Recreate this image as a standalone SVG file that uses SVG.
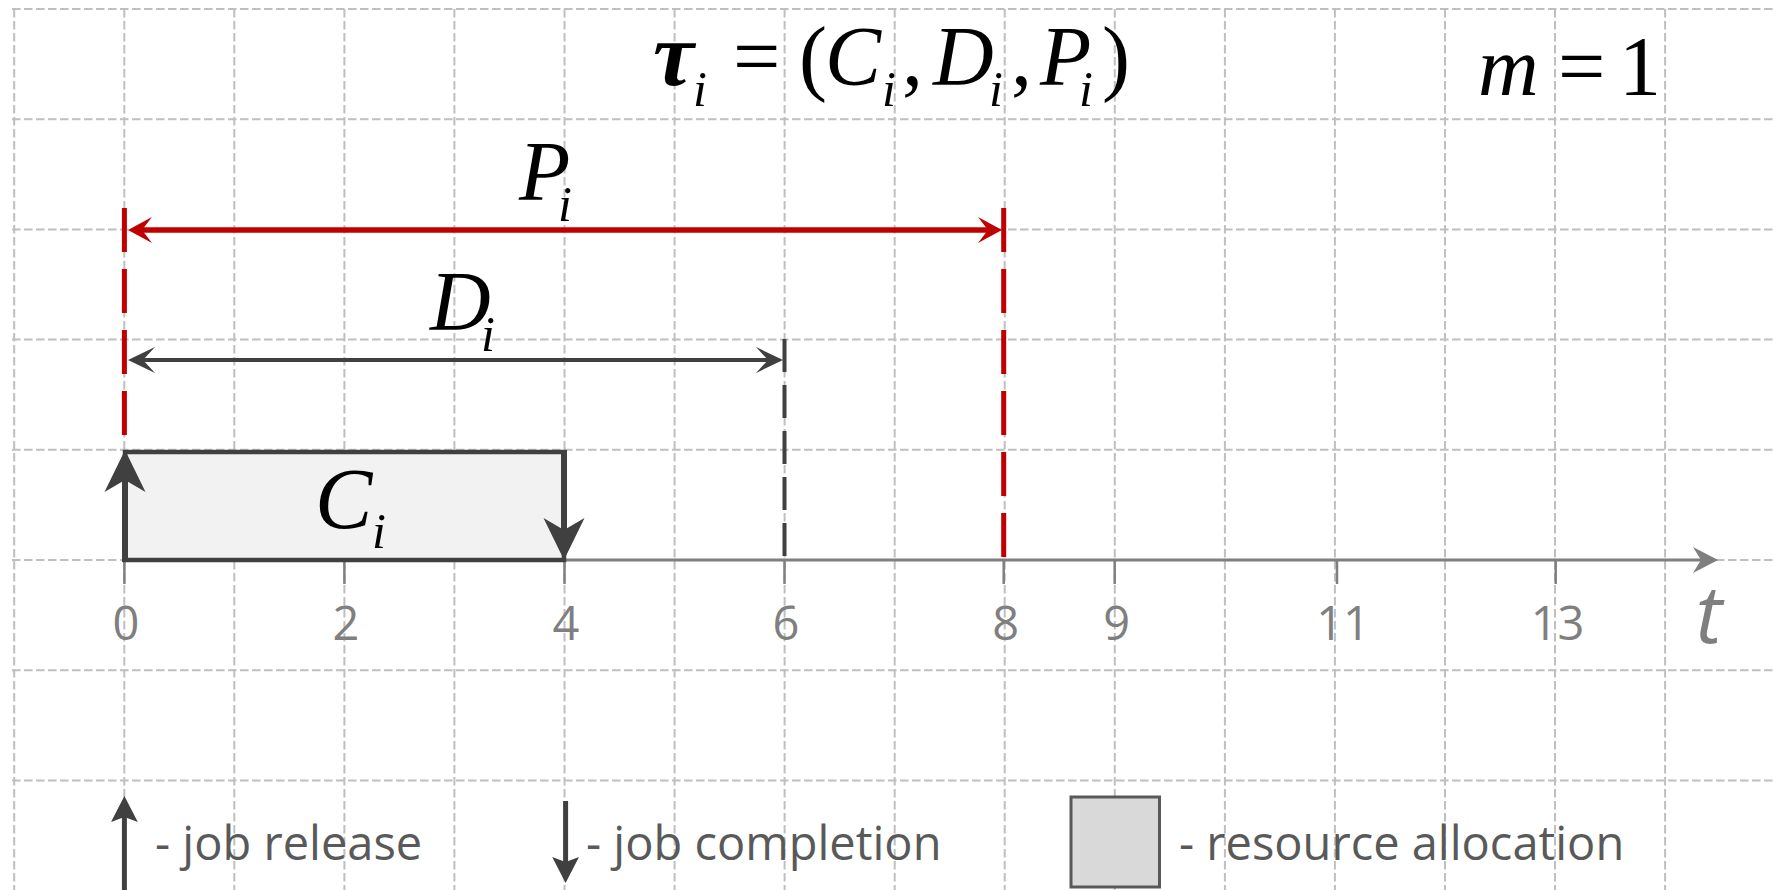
<svg xmlns="http://www.w3.org/2000/svg" width="1773" height="890" viewBox="0 0 1773 890">
<style>
.grid line{stroke:#bfbfbf;stroke-width:2;stroke-dasharray:8.5 3.5;fill:none}
.math{font-family:"Liberation Serif","Times New Roman",serif;fill:#000}
.it{font-style:italic}
.main{font-size:84px}
.sub{font-size:50px;font-style:italic}
.tick{stroke:#7f7f7f;stroke-width:2.5}
.tlabel{font-family:"Open Sans","Noto Sans",sans-serif;font-size:47px;fill:#7f7f7f;text-anchor:middle}
.leg{font-family:"Open Sans","Noto Sans",sans-serif;font-size:47px;fill:#595959}
</style>
<defs>
<marker id="mRed" markerUnits="userSpaceOnUse" viewBox="-16 -16 34 32" markerWidth="34" markerHeight="32" refX="0" refY="0" orient="auto-start-reverse">
<path d="M14,0 L-10,-13 L0,0 L-10,13 Z" fill="#c00000"/>
</marker>
<marker id="mGray" markerUnits="userSpaceOnUse" viewBox="-16 -16 34 32" markerWidth="34" markerHeight="32" refX="0" refY="0" orient="auto-start-reverse">
<path d="M15,0 L-12,-13 L0,0 L-12,13 Z" fill="#404040"/>
</marker>
<marker id="mBig" markerUnits="userSpaceOnUse" viewBox="-16 -24 50 48" markerWidth="50" markerHeight="48" refX="0" refY="0" orient="auto">
<path d="M30,0 L-12,-20.5 L0,0 L-12,20.5 Z" fill="#404040"/>
</marker>
<marker id="mLeg" markerUnits="userSpaceOnUse" viewBox="-8 -16 32 32" markerWidth="32" markerHeight="32" refX="0" refY="0" orient="auto">
<path d="M21,0 L-5,-13.4 L0,0 L-5,13.4 Z" fill="#404040"/>
</marker>
<marker id="mAxis" markerUnits="userSpaceOnUse" viewBox="-10 -16 30 32" markerWidth="30" markerHeight="32" refX="0" refY="0" orient="auto">
<path d="M17,0 L-8,-13 L0,0 L-8,13 Z" fill="#7f7f7f"/>
</marker>
</defs>
<rect x="0" y="0" width="1773" height="890" fill="#ffffff"/>
<g id="grid" class="grid">
<line x1="12" y1="9" x2="1773" y2="9"/>
<line x1="12" y1="119.2" x2="1773" y2="119.2"/>
<line x1="12" y1="229.4" x2="1773" y2="229.4"/>
<line x1="12" y1="339.6" x2="1773" y2="339.6"/>
<line x1="12" y1="449.8" x2="1773" y2="449.8"/>
<line x1="12" y1="560" x2="1773" y2="560"/>
<line x1="12" y1="670.2" x2="1773" y2="670.2"/>
<line x1="12" y1="780.4" x2="1773" y2="780.4"/>
<line x1="14.2" y1="9" x2="14.2" y2="890"/>
<line x1="124.3" y1="9" x2="124.3" y2="890"/>
<line x1="234.3" y1="9" x2="234.3" y2="890"/>
<line x1="344.4" y1="9" x2="344.4" y2="890"/>
<line x1="454.4" y1="9" x2="454.4" y2="890"/>
<line x1="564.5" y1="9" x2="564.5" y2="890"/>
<line x1="674.6" y1="9" x2="674.6" y2="890"/>
<line x1="784.6" y1="9" x2="784.6" y2="890"/>
<line x1="894.7" y1="9" x2="894.7" y2="890"/>
<line x1="1004.7" y1="9" x2="1004.7" y2="890"/>
<line x1="1114.8" y1="9" x2="1114.8" y2="890"/>
<line x1="1224.9" y1="9" x2="1224.9" y2="890"/>
<line x1="1334.9" y1="9" x2="1334.9" y2="890"/>
<line x1="1445" y1="9" x2="1445" y2="890"/>
<line x1="1555" y1="9" x2="1555" y2="890"/>
<line x1="1665.1" y1="9" x2="1665.1" y2="890"/>
</g>
<g id="axis">
<line x1="124" y1="560" x2="1701" y2="560" stroke="#7f7f7f" stroke-width="3" marker-end="url(#mAxis)"/>
<line class="tick" x1="124.4" y1="560" x2="124.4" y2="584"/>
<line class="tick" x1="344.4" y1="560" x2="344.4" y2="584"/>
<line class="tick" x1="564.5" y1="560" x2="564.5" y2="584"/>
<line class="tick" x1="784.5" y1="560" x2="784.5" y2="584"/>
<line class="tick" x1="1003.7" y1="560" x2="1003.7" y2="584"/>
<line class="tick" x1="1114.7" y1="560" x2="1114.7" y2="584"/>
<line class="tick" x1="1337" y1="560" x2="1337" y2="584"/>
<line class="tick" x1="1555.7" y1="560" x2="1555.7" y2="584"/>
<text class="tlabel" x="126" y="640">0</text>
<text class="tlabel" x="346" y="640">2</text>
<text class="tlabel" x="566" y="640">4</text>
<text class="tlabel" x="786" y="640">6</text>
<text class="tlabel" x="1005.6" y="640">8</text>
<text class="tlabel" x="1116.6" y="640">9</text>
<text class="tlabel" x="1343" y="640">11</text>
<text class="tlabel" x="1557.6" y="640">13</text>
<text x="1709" y="643" font-family="'Open Sans','Noto Sans',sans-serif" font-style="italic" font-size="80" fill="#7f7f7f" text-anchor="middle">t</text>
</g>
<g id="title" class="math">
<text class="it" x="653" y="85" font-size="92" font-weight="bold">τ</text>
<text class="sub" x="693" y="106">i</text>
<text class="main" x="733" y="85">=</text>
<text class="main" x="799" y="85">(</text>
<text class="main it" x="825" y="85">C</text>
<text class="sub" x="882" y="106">i</text>
<text class="main" x="902" y="85">,</text>
<text class="main it" x="933" y="85">D</text>
<text class="sub" x="989" y="106">i</text>
<text class="main" x="1011" y="85">,</text>
<text class="main it" x="1040" y="85">P</text>
<text class="sub" x="1079" y="106">i</text>
<text class="main" x="1102" y="85">)</text>
</g>
<g id="m-label" class="math">
<text class="main it" x="1478" y="95">m</text>
<text class="main" x="1558" y="95">=</text>
<text class="main" x="1619" y="95">1</text>
</g>
<g id="job-box">
<rect x="125" y="452" width="439" height="108" fill="#f2f2f2" stroke="#404040" stroke-width="4.5"/>
<g class="math">
<text class="it" x="315" y="528" font-size="86">C</text>
<text class="sub" x="372" y="548">i</text>
</g>
</g>
<g id="period-label" class="math">
<text class="main it" x="519" y="200">P</text>
<text class="sub" x="558" y="221">i</text>
</g>
<g id="deadline-label" class="math">
<text class="main it" x="430" y="330">D</text>
<text class="sub" x="481" y="351">i</text>
</g>
<g id="connectors">
<line x1="124.4" y1="208" x2="124.4" y2="437" stroke="#c00000" stroke-width="5" stroke-dasharray="44 17"/>
<line x1="1003.7" y1="208" x2="1003.7" y2="558" stroke="#c00000" stroke-width="5" stroke-dasharray="44 17"/>
<line x1="784.5" y1="339" x2="784.5" y2="557" stroke="#404040" stroke-width="4" stroke-dasharray="33 13"/>
<line x1="142" y1="230" x2="988" y2="230" stroke="#c00000" stroke-width="5.5" marker-start="url(#mRed)" marker-end="url(#mRed)"/>
<line x1="143" y1="360" x2="768" y2="360" stroke="#404040" stroke-width="4" marker-start="url(#mGray)" marker-end="url(#mGray)"/>
<line x1="125" y1="562" x2="125" y2="480" stroke="#404040" stroke-width="6" marker-end="url(#mBig)"/>
<line x1="564" y1="450" x2="564" y2="530" stroke="#404040" stroke-width="6" marker-end="url(#mBig)"/>
</g>
<g id="legend-release">
<line x1="124.4" y1="890" x2="124.4" y2="817" stroke="#404040" stroke-width="5" marker-end="url(#mLeg)"/>
<text class="leg" x="155" y="860">- job release</text>
</g>
<g id="legend-completion">
<line x1="565.6" y1="801" x2="565.6" y2="862" stroke="#404040" stroke-width="5" marker-end="url(#mLeg)"/>
<text class="leg" x="586" y="860">- job completion</text>
</g>
<g id="legend-allocation">
<rect x="1071" y="797" width="88.5" height="90" fill="#d9d9d9" stroke="#595959" stroke-width="3"/>
<text class="leg" x="1179" y="860">- resource allocation</text>
</g>
</svg>
